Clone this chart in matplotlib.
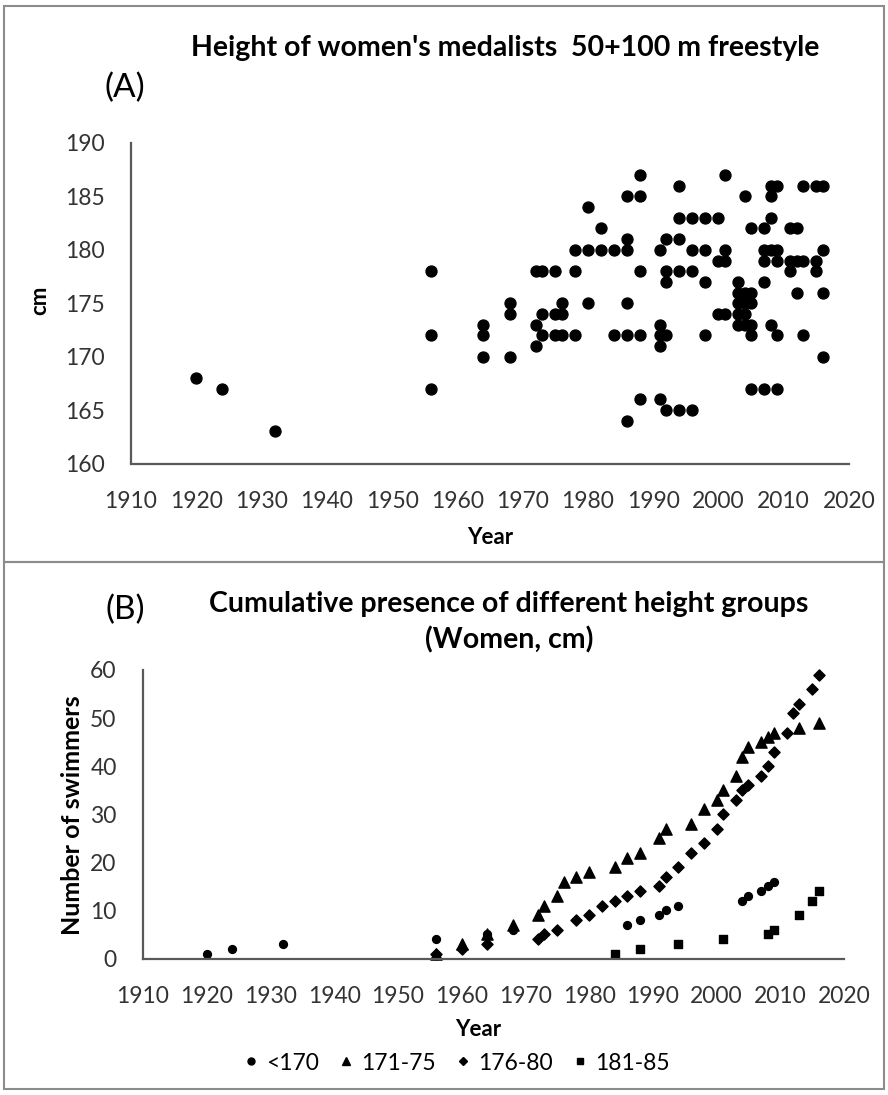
import matplotlib
matplotlib.use("Agg")
import matplotlib.pyplot as plt
from matplotlib.lines import Line2D
from matplotlib.patches import Rectangle

plt.rcParams["font.family"] = ["Lato", "DejaVu Sans"]

# (A) height of each medalist, by year
years_a = [1920, 1924, 1932,
           1956, 1956, 1956,
           1964, 1964, 1964,
           1968, 1968, 1968,
           1972, 1972, 1972,
           1973, 1973, 1973,
           1975, 1975, 1975,
           1976, 1976, 1976,
           1978, 1978, 1978,
           1980, 1980, 1980,
           1982, 1982,
           1984, 1984,
           1986, 1986, 1986, 1986, 1986, 1986,
           1988, 1988, 1988, 1988, 1988,
           1991, 1991, 1991, 1991, 1991,
           1992, 1992, 1992, 1992, 1992,
           1994, 1994, 1994, 1994, 1994,
           1996, 1996, 1996, 1996,
           1998, 1998, 1998, 1998,
           2000, 2000, 2000,
           2001, 2001, 2001, 2001,
           2003, 2003, 2003, 2003, 2003,
           2004, 2004, 2004, 2004, 2004,
           2005, 2005, 2005, 2005, 2005, 2005,
           2007, 2007, 2007, 2007, 2007,
           2008, 2008, 2008, 2008, 2008,
           2009, 2009, 2009, 2009, 2009,
           2011, 2011, 2011,
           2012, 2012, 2012,
           2013, 2013, 2013,
           2015, 2015, 2015,
           2016, 2016, 2016, 2016]
heights_a = [168, 167, 163,
             178, 172, 167,
             173, 172, 170,
             175, 174, 170,
             178, 173, 171,
             178, 174, 172,
             178, 174, 172,
             175, 174, 172,
             180, 178, 172,
             184, 180, 175,
             182, 180,
             180, 172,
             185, 181, 180, 175, 172, 164,
             187, 185, 178, 172, 166,
             180, 173, 172, 171, 166,
             181, 178, 177, 172, 165,
             186, 183, 181, 178, 165,
             183, 180, 178, 165,
             183, 180, 177, 172,
             183, 179, 174,
             187, 180, 179, 174,
             177, 176, 175, 174, 173,
             185, 176, 175, 174, 173,
             182, 176, 175, 173, 172, 167,
             182, 180, 179, 177, 167,
             186, 185, 183, 180, 173,
             186, 180, 179, 172, 167,
             182, 179, 178,
             182, 179, 176,
             186, 179, 172,
             186, 179, 178,
             186, 180, 176, 170]

# (B) cumulative counts per height group
groups = ["<170", "171-75", "176-80", "181-85"]
circle_years = [1920, 1924, 1932, 1956, 1964, 1968, 1986, 1988, 1991, 1992, 1994,
                2004, 2005, 2007, 2008, 2009]
circle_vals = [1, 2, 3, 4, 5, 6, 7, 8, 9, 10, 11, 12, 13, 14, 15, 16]
tri_years = [1956, 1960, 1964, 1968, 1972, 1973, 1975, 1976, 1978, 1980, 1984, 1986,
             1988, 1991, 1992, 1996, 1998, 2000, 2001, 2003, 2004, 2005, 2007, 2008,
             2009, 2013, 2016]
tri_vals = [1, 3, 5, 7, 9, 11, 13, 16, 17, 18, 19, 21, 22, 25, 27, 28, 31, 33, 35, 38,
            42, 44, 45, 46, 47, 48, 49]
dia_years = [1956, 1960, 1964, 1972, 1973, 1975, 1978, 1980, 1982, 1984, 1986, 1988,
             1991, 1992, 1994, 1996, 1998, 2000, 2001, 2003, 2004, 2005, 2007, 2008,
             2009, 2011, 2012, 2013, 2015, 2016]
dia_vals = [1, 2, 3, 4, 5, 6, 8, 9, 11, 12, 13, 14, 15, 17, 19, 22, 24, 27, 30, 33,
            35, 36, 38, 40, 43, 47, 51, 53, 56, 59]
sq_years = [1984, 1988, 1994, 2001, 2008, 2009, 2013, 2015, 2016]
sq_vals = [1, 2, 3, 4, 5, 6, 9, 12, 14]

W, H = 888, 1095


def box(l, t, r, b):
    return [l / W, 1 - b / H, (r - l) / W, (b - t) / H]


def put(x, y, s, **kw):
    fig.text(x / W, 1 - y / H, s, ha="center", va="center", **kw)


def style(ax):
    for s in ["top", "right"]:
        ax.spines[s].set_visible(False)
    for s in ["left", "bottom"]:
        ax.spines[s].set_color("#595959")
        ax.spines[s].set_linewidth(1.6)
    ax.tick_params(length=0, labelsize=16.5, labelcolor="#333333")
    ax.tick_params(axis="x", pad=20)
    ax.tick_params(axis="y", pad=19)


fig = plt.figure(figsize=(8.88, 10.95), dpi=100)

# panel frames
for t, b in [(6, 562), (562, 1089)]:
    fig.patches.append(Rectangle((4 / W, 1 - b / H), 880 / W, (b - t) / H,
                                 transform=fig.transFigure, fill=False,
                                 edgecolor="#8c8c8c", linewidth=1.5))

ax1 = fig.add_axes(box(131, 143, 849, 463.5))
ax1.scatter(years_a, heights_a, s=62, color="black", clip_on=False, zorder=3)
ax1.set_xlim(1910, 2020)
ax1.set_ylim(160, 190)
ax1.set_xticks(range(1910, 2021, 10))
ax1.set_yticks(range(160, 191, 5))
style(ax1)

put(505, 48, "Height of women's medalists  50+100 m freestyle", fontsize=20.5,
    fontweight="bold")
put(125, 88, "(A)", fontsize=24)
put(40, 300, "cm", fontsize=16, fontweight="bold", rotation=90)
put(490, 537, "Year", fontsize=16, fontweight="bold")

ax2 = fig.add_axes(box(143, 670, 844, 958.5))
ax2.scatter(circle_years, circle_vals, marker="o", s=32, color="black", clip_on=False)
ax2.scatter(tri_years, tri_vals, marker="^", s=65, color="black", clip_on=False)
ax2.scatter(dia_years, dia_vals, marker="D", s=32, color="black", clip_on=False)
ax2.scatter(sq_years, sq_vals, marker="s", s=38, color="black", clip_on=False)
ax2.set_xlim(1910, 2020)
ax2.set_ylim(0, 60)
ax2.set_xticks(range(1910, 2021, 10))
ax2.set_yticks(range(0, 61, 10))
style(ax2)

put(125, 610, "(B)", fontsize=24)
put(509, 604, "Cumulative presence of different height groups", fontsize=20.5,
    fontweight="bold")
put(509, 640, "(Women, cm)", fontsize=20.5, fontweight="bold")
put(72, 815, "Number of swimmers", fontsize=18, fontweight="bold", rotation=90)
put(478, 1030, "Year", fontsize=16, fontweight="bold")

handles = [Line2D([], [], ls="", marker=m, color="black", markersize=ms)
           for m, ms in [("o", 5), ("^", 6), ("D", 4.5), ("s", 5)]]
fig.legend(handles, groups, loc="center", bbox_to_anchor=(457 / W, 1 - 1063 / H),
           ncol=4, frameon=False, fontsize=16.5, handlelength=0.6, handletextpad=0.35,
           columnspacing=0.9)

fig.savefig("out.png", dpi=100)
